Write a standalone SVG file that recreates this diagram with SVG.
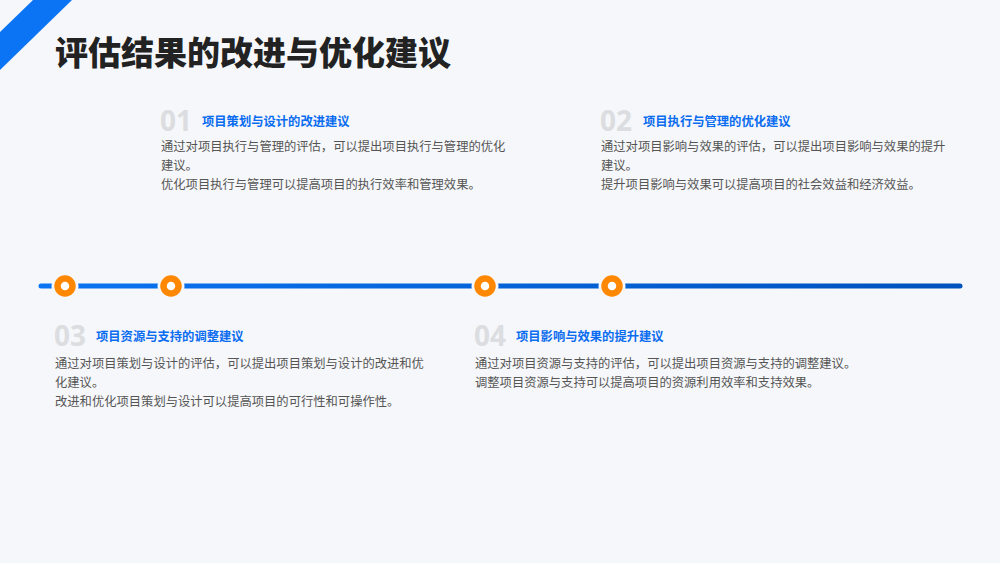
<svg xmlns="http://www.w3.org/2000/svg" width="1000" height="563" viewBox="0 0 1000 563">
<defs>
<linearGradient id="lg" x1="39" y1="0" x2="962" y2="0" gradientUnits="userSpaceOnUse">
<stop offset="0" stop-color="#0a74f2"/>
<stop offset="1" stop-color="#0052bd"/>
</linearGradient>
<style>
.num{font-family:"Noto Sans","Liberation Sans",sans-serif;font-weight:700;font-size:28px;fill:#dcdde0}
.hd{font-family:"Noto Sans CJK SC",sans-serif;font-weight:700;font-size:12.3px;fill:#0a6cf0}
.bd{font-family:"Noto Sans CJK SC",sans-serif;font-size:12.3px;fill:#555555}
.dot-halo{fill:#f5f7fa}
.dot{fill:#ffffff;stroke:#ff8800;stroke-width:6.5}
</style>
</defs>
<rect width="1000" height="563" fill="#f5f7fa"/>
<polygon points="33,0 72,0 0,70 0,32" fill="#0a74f5"/>
<text x="55" y="65" font-family="Noto Sans CJK SC, sans-serif" font-weight="900" font-size="33" fill="#222222">评估结果的改进与优化建议</text>

<g id="connectors">
<line x1="41" y1="286" x2="960" y2="286" stroke="url(#lg)" stroke-width="5" stroke-linecap="round"/>
</g>

<g id="dot1"><circle class="dot-halo" cx="65" cy="286" r="13.5"/><circle class="dot" cx="65" cy="286" r="7.5"/></g>
<g id="dot2"><circle class="dot-halo" cx="171" cy="286" r="13.5"/><circle class="dot" cx="171" cy="286" r="7.5"/></g>
<g id="dot3"><circle class="dot-halo" cx="485" cy="286" r="13.5"/><circle class="dot" cx="485" cy="286" r="7.5"/></g>
<g id="dot4"><circle class="dot-halo" cx="612" cy="286" r="13.5"/><circle class="dot" cx="612" cy="286" r="7.5"/></g>

<g id="item1">
<text class="num" x="160" y="131">01</text>
<text class="hd" x="202" y="126">项目策划与设计的改进建议</text>
<text class="bd" x="161" y="151">通过对项目执行与管理的评估，可以提出项目执行与管理的优化</text>
<text class="bd" x="161" y="170">建议。</text>
<text class="bd" x="161" y="189">优化项目执行与管理可以提高项目的执行效率和管理效果。</text>
</g>

<g id="item2">
<text class="num" x="600" y="131">02</text>
<text class="hd" x="643" y="126">项目执行与管理的优化建议</text>
<text class="bd" x="601" y="151">通过对项目影响与效果的评估，可以提出项目影响与效果的提升</text>
<text class="bd" x="601" y="170">建议。</text>
<text class="bd" x="601" y="189">提升项目影响与效果可以提高项目的社会效益和经济效益。</text>
</g>

<g id="item3">
<text class="num" x="54" y="346">03</text>
<text class="hd" x="96" y="341">项目资源与支持的调整建议</text>
<text class="bd" x="55" y="368">通过对项目策划与设计的评估，可以提出项目策划与设计的改进和优</text>
<text class="bd" x="55" y="387">化建议。</text>
<text class="bd" x="55" y="406">改进和优化项目策划与设计可以提高项目的可行性和可操作性。</text>
</g>

<g id="item4">
<text class="num" x="474" y="346">04</text>
<text class="hd" x="516" y="341">项目影响与效果的提升建议</text>
<text class="bd" x="475" y="368">通过对项目资源与支持的评估，可以提出项目资源与支持的调整建议。</text>
<text class="bd" x="475" y="387">调整项目资源与支持可以提高项目的资源利用效率和支持效果。</text>
</g>
</svg>
